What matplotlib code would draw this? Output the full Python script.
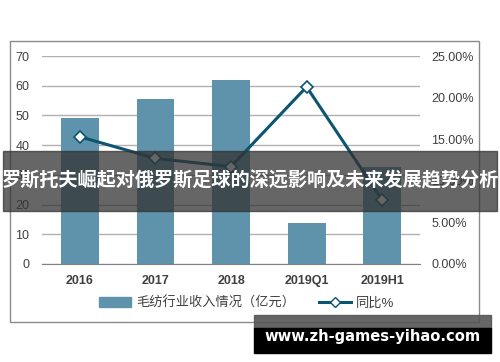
import matplotlib.pyplot as plt
from matplotlib.patches import Rectangle
from matplotlib.lines import Line2D
from matplotlib.ticker import FuncFormatter

plt.rcParams['font.family'] = ['Liberation Sans', 'Noto Sans CJK SC', 'DejaVu Sans']

categories = ['2016', '2017', '2018', '2019Q1', '2019H1']
revenue = [49.2, 55.5, 62.0, 13.8, 32.7]
yoy = [15.3, 12.7, 11.7, 21.3, 7.7]

bar_color = '#5e93ab'
line_color = '#0b5570'
text_color = '#404040'

fig = plt.figure(figsize=(5, 3.62), dpi=100)
fig.patch.set_facecolor('white')

# outer frame
fig.patches.append(Rectangle((0.02, 0.110), 0.938, 0.777, transform=fig.transFigure,
                             fill=False, edgecolor='#8a8a8a', linewidth=1.0))

ax = fig.add_axes([0.084, 0.271, 0.756, 0.574])
x = range(len(categories))
ax.bar(x, revenue, width=0.5, color=bar_color, zorder=2)
ax.set_xlim(-0.5, 4.5)
ax.set_ylim(0, 70)
ax.set_yticks(range(0, 71, 10))
ax.yaxis.grid(True, color='#b0b0b0', linewidth=1.0, zorder=0)
ax.set_axisbelow(True)
for s in ['top', 'right', 'left']:
    ax.spines[s].set_visible(False)
ax.spines['bottom'].set_color('#808080')
ax.set_xticks(list(x))
ax.set_xticklabels(categories)
ax.tick_params(length=0, labelsize=9, colors=text_color, pad=8)
for lab in ax.get_xticklabels():
    lab.set_fontweight('bold')
ax.tick_params(axis='y', pad=9)

ax2 = ax.twinx()
ax2.plot(x, yoy, color=line_color, linewidth=2.2, marker='D', markersize=6,
         markerfacecolor='white', markeredgecolor=line_color, markeredgewidth=1.2, zorder=3)
ax2.set_ylim(0, 25)
ax2.set_yticks(range(0, 26, 5))
ax2.yaxis.set_major_formatter(FuncFormatter(lambda v, p: f'{v:.2f}%'))
ax2.tick_params(length=0, labelsize=9, colors=text_color, pad=8)
for s in ax2.spines.values():
    s.set_visible(False)

# legend
handles = [Rectangle((0, 0), 1, 1, color=bar_color),
           Line2D([0], [0], color=line_color, linewidth=2.2, marker='D', markersize=5,
                  markerfacecolor='white', markeredgecolor=line_color)]
fig.legend(handles, ['毛纺行业收入情况（亿元）', '同比%'], loc='center',
           bbox_to_anchor=(0.494, 0.163), ncol=2, frameon=False, fontsize=9.5,
           labelcolor=text_color, handlelength=2.4, columnspacing=1.8, handletextpad=0.4)

# title banner
fig.patches.append(Rectangle((0.006, 0.417), 0.988, 0.166, transform=fig.transFigure,
                             color='#333333', alpha=0.75, zorder=10))
fig.text(0.5, 0.500, '罗斯托夫崛起对俄罗斯足球的深远影响及未来发展趋势分析',
         ha='center', va='center', color='white', fontsize=13.8, fontweight='bold',
         family=['Noto Sans CJK SC', 'DejaVu Sans'], zorder=11)

# watermark
fig.patches.append(Rectangle((0.508, 0.094), 0.474, 0.036, transform=fig.transFigure,
                             color='#555555', alpha=0.9, zorder=10))
fig.patches.append(Rectangle((0.508, 0.025), 0.474, 0.070, transform=fig.transFigure,
                             color='black', zorder=10))
fig.text(0.745, 0.070, 'www.zh-games-yihao.com', ha='center', va='center',
         color='white', fontsize=10.6, fontweight='bold', family='DejaVu Sans', zorder=11)

fig.savefig('out.png', dpi=100)
